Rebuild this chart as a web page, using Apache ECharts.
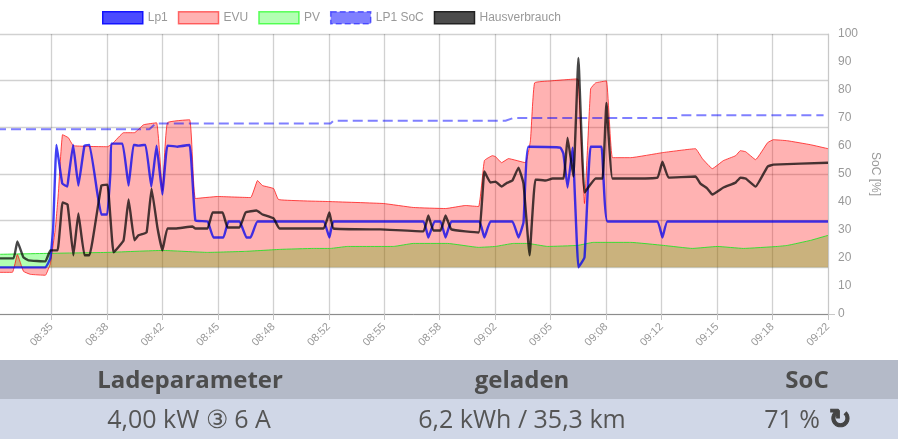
<!DOCTYPE html>
<html><head><meta charset="utf-8">
<style>html,body{margin:0;padding:0;background:#fff}#c{width:898px;height:446px}</style>
<script src="https://cdn.jsdelivr.net/npm/echarts@6/dist/echarts.min.js"></script>
</head><body><div id="c"></div>
<script>
// time = seconds after 08:35, power = kW, soc = %
const tickLabels=['','08:35','08:38','08:42','08:45','08:48','08:52','08:55','08:58','09:02','09:05','09:08','09:12','09:15','09:18','09:22'];
const lp1T=[-200,-22,-4,6,18,39,57,61,78,97,119,137,165,180,201,213,216,256,278,296,314,339,360,379,400,418,454,498,519,563,584,620,638,678,703,718,743,981,1002,1017,1341,1359,1381,1403,1421,1442,1543,1561,1583,1662,1684,1702,1720,1835,1846,1861,1879,1900,1922,1944,1983,2005,2185,2203,2221,2800];
const lp1V=[0,0,0.77,3.33,10.5,7.18,6.92,7.6,10.5,7.0,10.43,10.5,6.41,4.53,4.53,8.29,10.6,10.6,7.0,10.5,10.43,10.5,6.92,10.43,6.24,10.43,10.34,10.5,4.02,3.93,2.56,2.56,3.93,3.93,2.56,2.56,3.93,3.93,2.56,3.93,3.93,2.56,3.93,3.93,2.56,3.93,3.93,2.56,3.93,3.93,2.56,3.85,10.34,10.26,9.74,6.84,10.26,0,0.85,10.34,10.34,3.93,3.93,2.56,3.93,3.93];
const evuT=[-200,-141,-123,-101,-76,-22,-4,14,25,40,61,79,202,220,260,299,332,379,400,418,498,519,599,718,743,761,801,819,999,1197,1305,1421,1493,1540,1561,1590,1601,1623,1648,1709,1727,1742,1799,1846,1897,1900,1922,1944,1962,2001,2023,2088,2203,2322,2347,2383,2423,2467,2484,2503,2539,2582,2603,2654,2737,2800];
const evuV=[-0.43,-0.43,1.11,-0.34,-0.6,-0.68,0.34,3.33,6.41,11.37,11.11,10.43,10.34,10.6,11.54,11.54,12.22,12.39,6.58,12.39,12.65,5.9,6.07,5.98,7.44,7.01,6.75,5.81,5.64,5.47,5.13,5.04,5.3,5.21,9.15,9.57,9.49,8.97,9.32,8.97,10.85,15.81,15.98,16.07,16.15,15.98,5.47,15.3,15.81,15.98,9.4,9.4,9.83,10.17,9.32,8.46,9.15,9.57,10,9.91,9.23,10.68,10.94,10.85,10.51,10.17];
const pvT=[-200,-4,202,400,563,700,826,945,1006,1067,1233,1305,1428,1540,1601,1666,1716,1789,1897,1954,2088,2207,2311,2401,2495,2618,2654,2737,2800];
const pvV=[1.11,1.2,1.28,1.45,1.28,1.37,1.54,1.62,1.62,1.79,1.79,2.05,2.05,1.71,1.79,2.05,2.05,1.79,1.88,2.14,2.14,1.88,1.62,1.79,1.62,1.79,1.88,2.31,2.74];
const socT=[-200,353,375,1006,1017,1637,1666,2254,2268,2784];
const socV=[66,66,68,68,69,69,70,70,71,71];
const hausT=[-200,-137,-123,-101,-83,-22,-4,22,40,58,79,97,119,137,180,202,224,260,278,299,314,343,361,382,400,418,447,508,519,563,581,617,635,678,700,739,761,801,822,981,1002,1017,1186,1341,1359,1377,1403,1421,1442,1540,1561,1583,1601,1623,1644,1662,1684,1702,1724,1745,1781,1807,1846,1861,1882,1900,1922,1962,1987,2001,2023,2081,2185,2203,2225,2322,2340,2365,2383,2423,2467,2484,2503,2539,2582,2603,2800];
const hausV=[0.77,0.77,2.22,0.85,0.6,0.51,1.45,1.45,5.56,5.38,1.03,4.62,1.03,1.03,7.01,7.09,1.28,2.31,5.81,2.31,2.74,2.99,6.75,3.42,1.45,3.33,3.33,3.5,3.33,3.33,4.7,4.7,3.42,3.42,4.7,4.87,4.53,4.19,3.33,3.33,4.7,3.33,3.25,3.08,4.44,3.16,3.16,4.44,3.25,2.99,8.21,7.26,7.35,6.92,7.26,7.44,8.55,7.18,1.03,7.52,7.44,7.61,7.61,11.11,7.78,17.95,6.41,7.61,7.61,14.1,7.61,7.61,7.69,9.06,7.69,7.78,7.18,6.75,6.24,6.84,7.26,7.69,7.61,6.92,8.63,8.8,8.97];
const zip=(t,v)=>t.map((x,i)=>[x,v[i]]);
const TXT='"Liberation Sans",Arial,sans-serif', TBL='"Open Sans",sans-serif';
const chart=echarts.init(document.getElementById('c'),null,{renderer:'canvas'});
function line(name,t,v,color,width,extra){return Object.assign({name,type:'line',data:zip(t,v),showSymbol:false,symbol:'none',smooth:0.1,lineStyle:{color,width},itemStyle:{color},animation:false},extra||{});}
const legendBox=(name,fill,border,type)=>({name,icon:'rect',itemStyle:{color:fill,borderColor:border,borderWidth:1.5,borderType:type||'solid'}});
const GRID={color:'rgba(0,0,0,.18)',width:1.3};
chart.setOption({
 animation:false,
 grid:{left:-4,width:832,top:34,height:280,outerBoundsMode:'none'},
 legend:{left:102,top:11,padding:0,itemWidth:40,itemHeight:12,itemGap:10,textStyle:{color:'#999',fontFamily:TXT,fontSize:12},
  data:[legendBox('Lp1','rgba(0,0,255,.7)','#1414ff'),legendBox('EVU','rgba(255,0,0,.3)','rgba(255,0,0,.55)'),legendBox('PV','rgba(0,255,0,.3)','rgba(0,255,0,.6)'),legendBox('LP1 SoC','rgba(0,0,255,.5)','rgba(0,0,255,.55)','dashed'),legendBox('Hausverbrauch','rgba(0,0,0,.7)','#222')]},
 xAxis:{type:'value',min:-200,max:2800,interval:200,
  axisLine:{show:true,onZero:false,lineStyle:{color:'#8c8c8c',width:1}},
  axisTick:{show:true,length:6,lineStyle:{color:'#c4c4c4'}},
  splitLine:{show:true,lineStyle:GRID},
  axisLabel:{rotate:45,margin:11,color:'#999',fontFamily:TXT,fontSize:11,showMaxLabel:true,showMinLabel:true,hideOverlap:false,formatter:v=>tickLabels[Math.round((v+200)/200)]||''}},
 yAxis:[
  {type:'value',min:-4,max:20,interval:4,position:'left',axisLabel:{show:false},axisLine:{show:false},axisTick:{show:false},splitLine:{show:true,lineStyle:GRID}},
  {type:'value',min:0,max:100,interval:10,position:'right',name:'SoC [%]',nameLocation:'middle',nameRotate:-90,nameGap:41,nameTextStyle:{color:'#999',fontFamily:TXT,fontSize:12},
   axisLine:{show:true,lineStyle:{color:'#c8c8c8'}},axisTick:{show:true,length:7,customValues:[0],lineStyle:{color:'#c8c8c8'}},splitLine:{show:false},axisLabel:{margin:10,color:'#999',fontFamily:TXT,fontSize:12}}],
 series:[
  line('Lp1',lp1T,lp1V,'rgba(0,0,240,.75)',2.4,{z:5}),
  line('PV',pvT,pvV,'rgba(0,220,0,.8)',0,{z:2,areaStyle:{color:'rgba(0,255,0,.3)',opacity:1}}),
  line('EVU',evuT,evuV,'rgba(255,0,0,.7)',1,{z:3,areaStyle:{color:'rgba(255,0,0,.3)',opacity:1}}),
  line('PV',pvT,pvV,'rgba(40,225,40,.9)',1,{z:4}),
  line('LP1 SoC',socT,socV,'rgba(0,0,255,.5)',2,{z:4,yAxisIndex:1,smooth:false,lineStyle:{color:'rgba(0,0,255,.5)',width:2,type:[10,5]}}),
  line('Hausverbrauch',hausT,hausV,'rgba(0,0,0,.72)',2.4,{z:6})
 ],
 graphic:{elements:[
  {type:'rect',shape:{x:0,y:360,width:898,height:39},style:{fill:'#b4bac8'},silent:true},
  {type:'rect',shape:{x:0,y:399,width:898,height:40},style:{fill:'#d0d7e7'},silent:true},
  ...[['Ladeparameter',190],['geladen',522],['SoC',807]].map(([s,x])=>({type:'text',x,y:381,style:{text:s,fill:'#4d4d4d',font:'bold 24px '+TBL,textAlign:'center',textVerticalAlign:'middle'}})),
  ...[['4,00 kW ③ 6 A',189],['6,2 kWh / 35,3 km',522],['71 %',792]].map(([s,x])=>({type:'text',x,y:421,style:{text:s,fill:'#555',font:'25px '+TBL,textAlign:'center',textVerticalAlign:'middle'}})),
  {type:'text',x:840,y:421,style:{text:'↻',fill:'#444',font:'bold 27px "DejaVu Sans"',textAlign:'center',textVerticalAlign:'middle',stroke:'#444',lineWidth:1}}
 ]}
});
</script></body></html>
